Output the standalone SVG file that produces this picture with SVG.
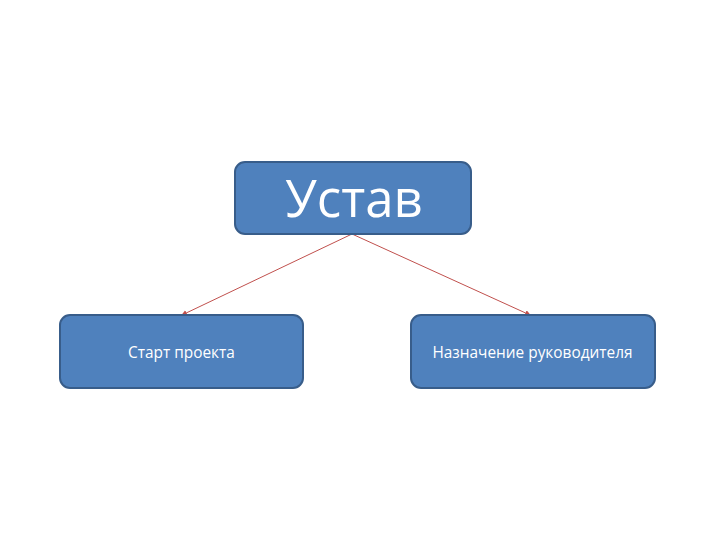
<svg xmlns="http://www.w3.org/2000/svg" width="720" height="540" viewBox="0 0 720 540">
<style>
.box{fill:#4F81BD;stroke:#385D8A;stroke-width:2}
.t{fill:#fff;font-family:"Open Sans","Liberation Sans",sans-serif;text-anchor:middle}
.c{stroke:#C0504D;stroke-width:1;fill:none;marker-end:url(#a)}
</style>
<defs>
<marker id="a" markerWidth="6" markerHeight="6" refX="5" refY="3" orient="auto" markerUnits="userSpaceOnUse">
<path d="M0,0 L6,3 L0,6 z" fill="#C0504D"/>
</marker>
</defs>
<rect width="720" height="540" fill="#fff"/>
<g id="connectors">
<line class="c" x1="352" y1="234" x2="182" y2="315"/>
<line class="c" x1="352" y1="234" x2="530" y2="315"/>
</g>
<g id="ustav">
<rect class="box" x="235" y="162" width="236" height="72" rx="10"/>
<text class="t" x="354" y="217" font-size="51">Устав</text>
</g>
<g id="start">
<rect class="box" x="60" y="315" width="243" height="73" rx="10"/>
<text class="t" x="181.5" y="358" font-size="15.4">Старт проекта</text>
</g>
<g id="naznachenie">
<rect class="box" x="411" y="315" width="244" height="73" rx="10"/>
<text class="t" x="532.5" y="358" font-size="15.4">Назначение руководителя</text>
</g>
</svg>
